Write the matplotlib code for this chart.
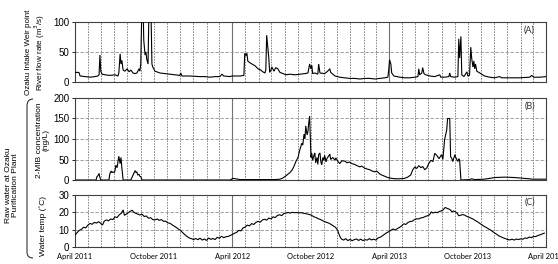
import numpy as np
import matplotlib
matplotlib.use("Agg")
import matplotlib.pyplot as plt
from matplotlib.path import Path
from matplotlib.patches import PathPatch

# ---------------- data (days since 2011-04-01) ----------------
start_date = "2011-04-01"
end_date = "2014-04-01"

flow_days = [0, 9, 12, 23, 35, 46, 53, 56, 58, 60, 63, 70, 81, 93, 100, 102, 105, 107, 109, 112,
             116, 121, 126, 130, 135, 140, 144, 149, 151, 153, 156, 158, 160, 163, 165, 167, 170,
             172, 174, 177, 179, 181, 186, 198, 209, 221, 233, 244, 246, 249, 267, 291, 302, 314,
             326, 337, 342, 346, 360, 365, 372, 384, 393, 395, 398, 400, 402, 407, 412, 419, 426,
             432, 437, 442, 444, 446, 449, 451, 453, 456, 458, 463, 467, 472, 477, 484, 491, 500,
             512, 523, 535, 542, 546, 549, 551, 553, 558, 565, 567, 570, 581, 588, 593, 595, 605,
             616, 628, 639, 651, 663, 674, 686, 698, 709, 721, 728, 730, 732, 735, 737, 742, 756,
             767, 779, 791, 798, 800, 802, 807, 809, 812, 816, 826, 837, 849, 851, 860, 870, 872,
             874, 884, 891, 893, 895, 898, 900, 905, 912, 914, 918, 921, 923, 926, 928, 930, 932,
             935, 942, 953, 965, 977, 988, 993, 1011, 1035, 1058, 1063, 1067, 1081, 1096]
flow_vals = [16, 16, 10, 9, 8, 9, 10, 12, 45, 18, 13, 12, 11, 12, 10, 15, 47, 30, 36, 20,
             18, 22, 17, 20, 15, 14, 15, 22, 18, 30, 140, 140, 70, 45, 50, 38, 30,
             120, 150, 110, 30, 25, 18, 15, 14, 13, 12, 11, 15, 10, 10, 9, 9, 8,
             9, 9, 13, 10, 9, 10, 10, 10, 11, 48, 44, 48, 35, 32, 30, 27, 22,
             20, 17, 15, 20, 78, 55, 40, 16, 20, 25, 18, 24, 22, 16, 14, 12, 13,
             12, 13, 14, 15, 30, 22, 28, 14, 15, 13, 30, 15, 14, 18, 22, 16, 10,
             8, 7, 6, 6, 5, 6, 6, 5, 6, 7, 8, 20, 37, 30, 15, 10, 8,
             7, 7, 8, 9, 22, 12, 15, 24, 14, 12, 10, 9, 12, 8, 8, 9, 15,
             9, 8, 9, 72, 40, 76, 12, 9, 17, 10, 11, 58, 40, 25, 35, 22, 30,
             18, 15, 10, 8, 7, 9, 7, 7, 7, 8, 11, 8, 8, 9]

mib_days = [0, 49, 51, 53, 56, 58, 60, 79, 81, 84, 86, 88, 91, 93, 95, 98, 100, 102, 105, 107,
            109, 112, 130, 135, 140, 142, 144, 146, 149, 151, 153, 156, 360, 363, 367, 374, 384,
            430, 465, 477, 484, 493, 500, 505, 509, 514, 519, 523, 528, 530, 533, 535, 537, 540,
            542, 544, 546, 549, 551, 553, 556, 558, 560, 563, 565, 567, 570, 572, 574, 577, 579,
            581, 584, 586, 591, 593, 595, 600, 605, 607, 612, 616, 621, 628, 633, 639, 644, 651,
            656, 663, 667, 674, 679, 686, 691, 698, 702, 709, 714, 721, 728, 732, 744, 756, 767,
            774, 781, 786, 791, 795, 800, 805, 809, 814, 819, 823, 828, 833, 837, 842, 847, 853,
            856, 860, 865, 867, 872, 874, 877, 879, 884, 886, 891, 893, 895, 898, 918, 923, 930,
            953, 965, 977, 1000, 1023, 1046, 1065, 1096]
mib_vals = [0, 0, 8, 10, 16, 6, 0, 0, 15, 22, 18, 20, 18, 22, 36, 30, 45, 58, 40, 55,
            30, 0, 0, 12, 23, 18, 20, 12, 14, 9, 8, 0, 0, 1, 4, 3, 1,
            1, 1, 2, 5, 12, 18, 24, 32, 45, 55, 73, 90, 85, 112, 100, 132, 110,
            118, 140, 155, 55, 65, 48, 60, 66, 42, 55, 38, 62, 66, 45, 37, 55, 48,
            60, 44, 52, 60, 63, 50, 55, 48, 54, 45, 40, 47, 46, 42, 44, 40, 38,
            35, 32, 34, 29, 27, 25, 22, 20, 22, 15, 12, 9, 6, 5, 3, 3, 4,
            7, 12, 25, 32, 28, 35, 30, 33, 25, 30, 40, 48, 45, 65, 60, 52, 62,
            50, 98, 122, 150, 150, 57, 52, 45, 62, 55, 45, 52, 49, 0, 1, 3, 1,
            2, 4, 6, 7, 6, 4, 2, 2]

temp_days = [0, 5, 10, 15, 20, 25, 30, 35, 40, 45, 50, 55, 60, 64, 68, 73, 78, 83, 88, 93,
             98, 103, 108, 112, 115, 119, 123, 128, 133, 137, 141, 146, 151, 156, 161, 166, 171,
             176, 181, 186, 191, 196, 201, 206, 211, 216, 221, 226, 231, 236, 241, 246, 251, 256,
             261, 266, 271, 276, 281, 286, 291, 296, 301, 306, 311, 316, 321, 326, 331, 336, 341,
             346, 351, 356, 361, 366, 371, 376, 381, 386, 391, 396, 401, 406, 411, 416, 421, 426,
             431, 436, 441, 446, 451, 456, 461, 466, 471, 476, 481, 486, 491, 496, 501, 506, 511,
             516, 521, 526, 531, 536, 541, 546, 551, 556, 561, 566, 571, 576, 581, 586, 591, 596,
             601, 606, 611, 614, 617, 620, 625, 630, 635, 640, 645, 650, 655, 660, 665, 670, 675,
             680, 685, 690, 695, 700, 705, 710, 715, 720, 725, 730, 735, 740, 745, 750, 755, 760,
             765, 770, 775, 780, 785, 790, 795, 800, 805, 810, 815, 820, 825, 829, 833, 838, 843,
             848, 853, 857, 861, 865, 869, 873, 877, 881, 885, 889, 893, 897, 902, 907, 912, 917,
             922, 927, 932, 937, 942, 947, 952, 957, 962, 967, 972, 977, 982, 987, 992, 997, 1002,
             1007, 1012, 1017, 1022, 1027, 1032, 1037, 1042, 1047, 1052, 1057, 1062, 1067, 1072,
             1077, 1082, 1087, 1092]
temp_vals = [6.9, 8.3, 9.6, 10.2, 11.4, 11.0, 12.6, 13.6, 13.1, 14.2, 13.8, 14.6, 13.6, 12.7, 14.9,
             15.6, 15.1, 16.2, 15.8, 17.4, 17.0, 18.6, 19.5, 21.4, 18.3, 18.9, 19.6, 20.5, 21.2,
             20.0, 19.5, 19.0, 18.5, 18.9, 17.6, 17.9, 16.6, 16.9, 15.8, 15.6, 16.2, 15.4, 15.8,
             14.8, 14.9, 13.9, 13.7, 12.8, 12.0, 11.2, 10.3, 9.4, 8.2, 7.0, 6.0, 5.2, 4.8, 4.3,
             4.9, 4.2, 5.1, 4.0, 4.6, 3.8, 5.2, 4.4, 4.9, 4.3, 5.6, 5.0, 6.2, 5.4, 5.9, 6.1, 6.6,
             7.2, 7.9, 8.4, 9.6, 9.3, 11.0, 11.5, 12.6, 12.2, 13.5, 13.0, 14.2, 14.8, 14.3, 15.6,
             16.0, 15.5, 16.7, 16.2, 17.4, 17.0, 18.2, 18.6, 18.1, 19.3, 19.6, 19.9, 19.6, 20.0,
             19.8, 19.9, 19.7, 19.8, 19.5, 19.3, 19.0, 18.7, 18.2, 17.4, 17.0, 16.3, 15.9, 15.2,
             14.6, 14.2, 13.7, 13.0, 12.2, 11.4, 9.8, 7.6, 5.8, 4.6, 4.0, 4.8, 3.7, 4.4, 3.6, 4.3,
             4.6, 3.8, 4.5, 3.7, 4.2, 4.0, 4.8, 4.1, 4.5, 4.0, 5.2, 5.6, 6.4, 7.3, 8.2, 8.8, 9.6,
             10.4, 9.8, 10.6, 11.3, 12.2, 13.4, 13.0, 14.2, 14.7, 14.9, 15.8, 16.3, 16.2, 16.8,
             17.0, 17.6, 18.0, 18.6, 20.3, 19.6, 20.1, 19.8, 20.5, 20.9, 21.5, 22.8, 22.4, 22.0,
             21.5, 20.4, 20.8, 20.3, 19.6, 18.0, 18.3, 18.7, 18.4, 17.6, 17.2, 16.6, 16.0, 15.2,
             14.5, 13.6, 12.8, 11.9, 11.3, 10.5, 9.8, 8.9, 8.0, 7.2, 6.3, 5.8, 5.2, 4.8, 4.3, 4.1,
             4.5, 4.0, 4.6, 4.3, 4.7, 4.5, 5.2, 5.0, 5.7, 5.4, 6.1, 6.0, 6.6, 7.0, 7.5, 8.0]

xtick_dates = ["2011-04-01", "2011-10-01", "2012-04-01", "2012-10-01", "2013-04-01", "2013-10-01", "2014-04-01"]
xtick_labels = ["April 2011", "October 2011", "April 2012", "October 2012", "April 2013", "October 2013", "April 2014"]

panel_names = ["(A)", "(B)", "(C)"]
ylims = [(0, 100), (0, 200), (0, 30)]
yticks = [[0, 50, 100], [0, 50, 100, 150, 200], [0, 10, 20, 30]]

# ---------------- figure ----------------
W, H = 558, 264
fig = plt.figure(figsize=(W / 100, H / 100), dpi=100)

def rect(x0, y0, x1, y1):
    return [x0 / W, 1 - y1 / H, (x1 - x0) / W, (y1 - y0) / H]

axA = fig.add_axes(rect(75, 22, 546, 82))
axB = fig.add_axes(rect(75, 98, 546, 180))
axC = fig.add_axes(rect(75, 195, 546, 247))
axes = [axA, axB, axC]

t0 = np.datetime64(start_date)
t1 = np.datetime64(end_date)
series = [(flow_days, flow_vals), (mib_days, mib_vals), (temp_days, temp_vals)]

months = np.arange(np.datetime64("2011-05"), np.datetime64("2014-04"), np.timedelta64(1, "M"))

tick_font = "Liberation Sans"
lab_font = "Lato"

for i, ax in enumerate(axes):
    d, v = series[i]
    x = t0 + np.array(d).astype("timedelta64[D]")
    ax.set_xlim(t0, t1)
    ax.set_ylim(*ylims[i])
    ax.set_yticks(yticks[i])
    for m in months:
        md = m.astype("datetime64[D]")
        if str(m).endswith("-04"):
            ax.axvline(md, color="#707070", lw=0.8, ls="-", zorder=1)
        else:
            ax.axvline(md, color="#606060", lw=0.55, ls=(0, (2, 1.6)), zorder=1)
    for yv in yticks[i][1:-1]:
        ax.axhline(yv, color="#909090", lw=0.6, ls=(0, (4, 2)), zorder=1)
    ax.plot(x, v, color="black", lw=0.8, zorder=3, solid_joinstyle="miter")
    for s in ax.spines.values():
        s.set_color("#404040")
        s.set_linewidth(0.8)
    ax.tick_params(axis="y", direction="out", length=2, width=0.6, pad=2, labelsize=7)
    for lbl in ax.get_yticklabels():
        lbl.set_fontfamily(tick_font)
    ax.text(0.965, 0.86 if i != 1 else 0.9, panel_names[i], transform=ax.transAxes, ha="center", va="center",
            fontsize=6.5, family=lab_font, color="#333333")
    if i < 2:
        ax.set_xticks([])
    else:
        ax.set_xticks([np.datetime64(s) for s in xtick_dates])
        ax.set_xticklabels(xtick_labels, fontsize=5.4, family=lab_font)
        ax.tick_params(axis="x", length=0, pad=4.5)

# y-axis labels
fig.text(36 / W, 1 - 52 / H, "Ozaku Intake Weir point\nRiver flow rate (m$^3$/s)", rotation=90,
         ha="center", va="center", fontsize=5.8, family=tick_font, linespacing=1.0)
fig.text(43 / W, 1 - 140 / H, "2-MIB concentration\n(ng/L)", rotation=90,
         ha="center", va="center", fontsize=6, family=tick_font, linespacing=1.0)
fig.text(43 / W, 1 - 226 / H, "Water temp (\u02daC)", rotation=90,
         ha="center", va="center", fontsize=6, family=tick_font)
fig.text(12 / W, 1 - 185 / H, "Raw water at Ozaku\nPurification Plant", rotation=90,
         ha="center", va="center", fontsize=6, family=tick_font, linespacing=1.0)

# bracket
def P(x, y):
    return (x / W, 1 - y / H)
verts = [P(33, 99), P(27, 99), P(27, 106), P(27, 252), P(27, 258), P(33, 258)]
codes = [Path.MOVETO, Path.CURVE3, Path.CURVE3, Path.LINETO, Path.CURVE3, Path.CURVE3]
fig.add_artist(PathPatch(Path(verts, codes), transform=fig.transFigure, fill=False,
                         edgecolor="#333333", lw=0.8))

fig.savefig("out.png", dpi=100)
